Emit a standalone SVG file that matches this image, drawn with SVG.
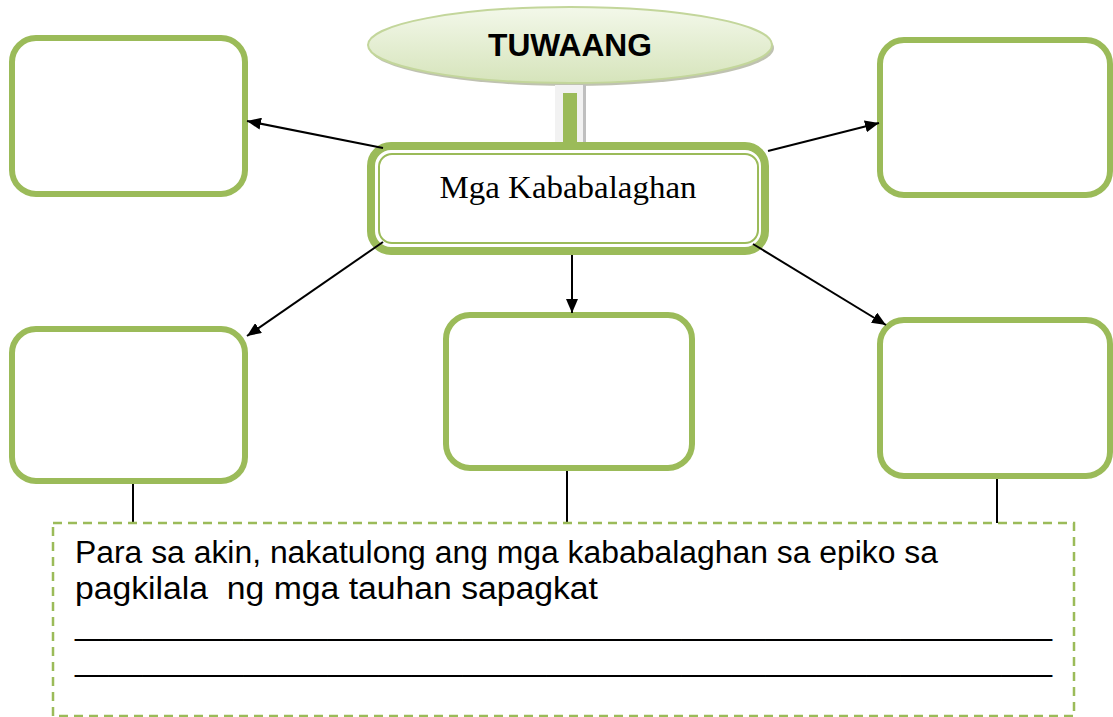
<svg xmlns="http://www.w3.org/2000/svg" width="1113" height="717" viewBox="0 0 1113 717">
<style>
.box{fill:#fff;stroke:#9bbb59;stroke-width:6}
.conn{stroke:#000;stroke-width:2;fill:none}
.tick{stroke:#000;stroke-width:2}
.body{font-family:"Liberation Sans",Arial,sans-serif;font-size:31px;fill:#000;white-space:pre}
</style>
<defs>
<linearGradient id="eg" x1="0" y1="0" x2="0" y2="1">
<stop offset="0" stop-color="#f3f8ea"/>
<stop offset="1" stop-color="#d6e4bb"/>
</linearGradient>
<marker id="ah" viewBox="0 0 14 12" refX="14" refY="6" markerWidth="14" markerHeight="12" markerUnits="userSpaceOnUse" orient="auto">
<path d="M0,0 L14,6 L0,12 z" fill="#000"/>
</marker>
</defs>
<rect width="1113" height="717" fill="#fff"/>

<g id="title">
<ellipse cx="572" cy="48" rx="202" ry="38" fill="#a4a890" opacity="0.7"/>
<ellipse cx="570" cy="45" rx="202" ry="38" fill="url(#eg)" stroke="#c3d69b" stroke-width="2"/>
<text x="570" y="56" text-anchor="middle" font-family="'Liberation Sans',Arial,sans-serif" font-weight="bold" font-size="31" textLength="164" lengthAdjust="spacingAndGlyphs">TUWAANG</text>
</g>

<g id="stem">
<rect x="556" y="85" width="30" height="60" fill="#bfbfbf"/>
<rect x="555" y="85" width="28" height="60" fill="#f2f2f2"/>
<rect x="563" y="93" width="14" height="52" fill="#9bbb59"/>
</g>

<g id="center">
<rect x="371" y="146" width="394" height="105" rx="20" fill="#fff" stroke="#9bbb59" stroke-width="8"/>
<rect x="379" y="154" width="379" height="89" rx="13" fill="#fff" stroke="#9bbb59" stroke-width="2"/>
<text x="568" y="198" text-anchor="middle" font-family="'Liberation Serif','Times New Roman',serif" font-size="32" textLength="257" lengthAdjust="spacingAndGlyphs">Mga Kababalaghan</text>
</g>

<g id="box-top-left"><rect class="box" x="12" y="38" width="233" height="156" rx="24"/></g>
<g id="box-top-right"><rect class="box" x="880" y="40" width="230" height="155" rx="24"/></g>
<g id="box-bottom-left"><rect class="box" x="12" y="329" width="233" height="152" rx="24"/></g>
<g id="box-bottom-middle"><rect class="box" x="446" y="315" width="246" height="153" rx="24"/></g>
<g id="box-bottom-right"><rect class="box" x="880" y="320" width="230" height="156" rx="24"/></g>

<g id="connectors">
<line class="conn" x1="383" y1="148" x2="247" y2="121" marker-end="url(#ah)"/>
<line class="conn" x1="768" y1="151" x2="879" y2="123" marker-end="url(#ah)"/>
<line class="conn" x1="383" y1="242" x2="247" y2="336" marker-end="url(#ah)"/>
<line class="conn" x1="572" y1="255" x2="572" y2="313" marker-end="url(#ah)"/>
<line class="conn" x1="753" y1="244" x2="886" y2="325" marker-end="url(#ah)"/>
<line class="tick" x1="133" y1="484" x2="133" y2="523"/>
<line class="tick" x1="567" y1="471" x2="567" y2="523"/>
<line class="tick" x1="997" y1="479" x2="997" y2="523"/>
</g>

<g id="reflection">
<rect x="53" y="523" width="1021" height="193" fill="none" stroke="#9bbb59" stroke-width="2.5" stroke-dasharray="9,6"/>
<text class="body" x="75" y="563" textLength="863" lengthAdjust="spacingAndGlyphs">Para sa akin, nakatulong ang mga kababalaghan sa epiko sa</text>
<text class="body" x="75" y="599" textLength="523" lengthAdjust="spacingAndGlyphs">pagkilala  ng mga tauhan sapagkat</text>
<text class="body" x="75" y="635" textLength="977" lengthAdjust="spacingAndGlyphs">__________________________________________________________</text>
<text class="body" x="75" y="671" textLength="977" lengthAdjust="spacingAndGlyphs">__________________________________________________________</text>
</g>
</svg>
